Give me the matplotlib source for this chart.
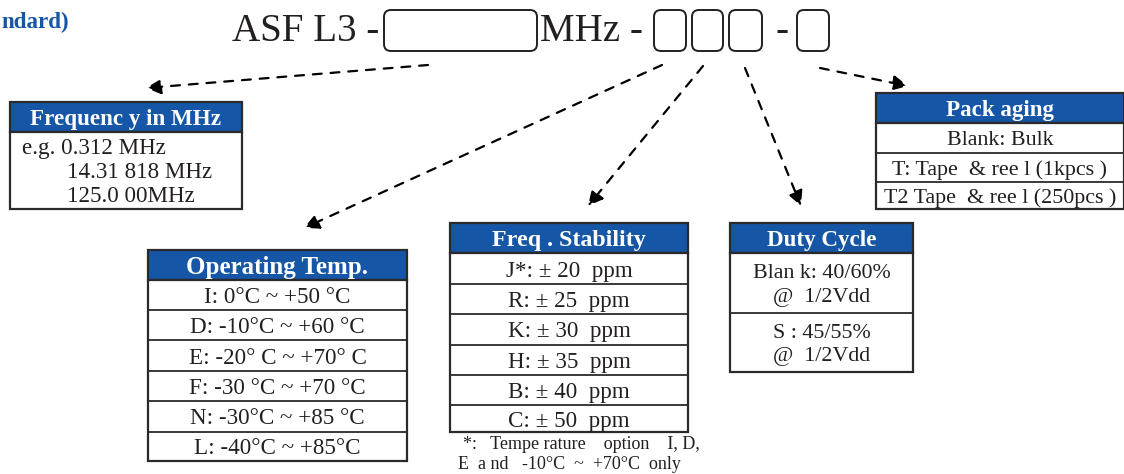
import matplotlib
matplotlib.use("Agg")
import matplotlib.pyplot as plt
from matplotlib.patches import FancyBboxPatch, Rectangle

# ---- content ----
title_suffix = "ndard)"
part_prefix = "ASF L3 -"
part_mid = "MHz -"
part_sep = "-"
freq_title = "Frequenc y in MHz"
freq_examples = ["e.g. 0.312 MHz", "14.31 818 MHz", "125.0 00MHz"]
temp_title = "Operating Temp."
temp_options = ["I: 0°C ~ +50 °C", "D: -10°C ~ +60 °C", "E: -20° C ~ +70° C",
                "F: -30 °C ~ +70 °C", "N: -30°C ~ +85 °C", "L: -40°C ~ +85°C"]
stab_title = "Freq . Stability"
stab_options = ["J*: ± 20  ppm", "R: ± 25  ppm", "K: ± 30  ppm",
                "H: ± 35  ppm", "B: ± 40  ppm", "C: ± 50  ppm"]
stab_note = ["*:   Tempe rature    option    I, D,", "E  a nd   -10°C  ~  +70°C  only"]
duty_title = "Duty Cycle"
duty_options = [["Blan k: 40/60%", "@  1/2Vdd"], ["S : 45/55%", "@  1/2Vdd"]]
pack_title = "Pack aging"
pack_options = ["Blank: Bulk", "T: Tape  & ree l (1kpcs )", "T2 Tape  & ree l (250pcs )"]

BLUE = "#1656a6"
INK = "#231f20"
SERIF = ["Liberation Serif", "DejaVu Serif"]
DY = 2.5

W, H = 1124, 474
fig = plt.figure(figsize=(W / 100, H / 100), dpi=100)
ax = fig.add_axes([0, 0, 1, 1])
ax.set_xlim(0, W)
ax.set_ylim(H, 0)
ax.axis("off")

def pt(px):
    return px * 0.72

def txt(x, y, s, size, ha="center", color=INK, weight="normal"):
    ax.text(x, y + DY, s, fontsize=pt(size), ha=ha, va="center", color=color,
            fontweight=weight, family=SERIF, zorder=5)

def table(x0, x1, ytop, yhead, rows_y, title, row_texts, row_size=23, head_size=23):
    ax.add_patch(Rectangle((x0, ytop), x1 - x0, yhead - ytop, facecolor=BLUE,
                           edgecolor="#2a2a2a", lw=1.6, zorder=2))
    txt((x0 + x1) / 2, (ytop + yhead) / 2, title, head_size, color="white", weight="bold")
    ax.add_patch(Rectangle((x0, yhead), x1 - x0, rows_y[-1] - yhead, facecolor="white",
                           edgecolor="#2a2a2a", lw=1.6, zorder=2))
    prev = yhead
    for i, yb in enumerate(rows_y):
        if i < len(rows_y) - 1:
            ax.plot([x0, x1], [yb, yb], color="#2a2a2a", lw=1.3, zorder=3)
        content = row_texts[i]
        if isinstance(content, list):
            n = len(content)
            mid = (prev + yb) / 2
            for k, line in enumerate(content):
                txt((x0 + x1) / 2, mid + (k - (n - 1) / 2) * 24, line, row_size)
        else:
            txt((x0 + x1) / 2, (prev + yb) / 2, content, row_size)
        prev = yb

# ---- title pieces ----
ax.text(69, 22, title_suffix, fontsize=pt(23), ha="right", va="center",
        color=BLUE, fontweight="bold", family=SERIF)
txt(232, 29, part_prefix, 39, ha="left")
txt(540, 29, part_mid, 39, ha="left")
txt(782, 29, part_sep, 39)

boxes = [(384, 537), (654, 686), (692, 723), (729, 762), (797, 829)]
for bx0, bx1 in boxes:
    ax.add_patch(FancyBboxPatch((bx0, 10), bx1 - bx0, 41,
                                boxstyle="round,pad=0,rounding_size=7",
                                facecolor="white", edgecolor=INK, lw=1.4, zorder=6))

# ---- arrows ----
arrows = [((428, 65), (146, 88)), ((662, 65), (304, 228)), ((703, 66), (588, 206)),
          ((745, 68), (801, 206)), ((820, 68), (908, 86))]
for (xs, ys), (xe, ye) in arrows:
    ax.annotate("", xy=(xe, ye), xytext=(xs, ys),
                arrowprops=dict(arrowstyle="-|>,head_length=0.9,head_width=0.45",
                                linestyle=(0, (4, 4)), lw=1.6, color="black",
                                shrinkA=0, shrinkB=0))

# ---- Frequency box ----
ax.add_patch(Rectangle((10, 102), 232, 30, facecolor=BLUE, edgecolor="#2a2a2a", lw=1.6))
txt(126, 117, freq_title, 23, color="white", weight="bold")
ax.add_patch(Rectangle((10, 132), 232, 77, facecolor="white", edgecolor="#2a2a2a", lw=1.6))
txt(22, 146, freq_examples[0], 23, ha="left")
txt(67, 170, freq_examples[1], 23, ha="left")
txt(67, 194, freq_examples[2], 23, ha="left")

# ---- Operating temp ----
table(148, 407, 250, 280, [310, 340, 371, 401, 432, 461], temp_title, temp_options,
      head_size=25)

# ---- Freq stability ----
table(450, 688, 223, 253, [284, 314, 345, 375, 405, 432], stab_title, stab_options,
      head_size=24)
txt(463, 442, stab_note[0], 18, ha="left")
txt(458, 462, stab_note[1], 18, ha="left")

# ---- Duty cycle ----
table(730, 913, 223, 253, [313, 372], duty_title, duty_options, row_size=22)

# ---- Packaging ----
table(876, 1124, 93, 123, [153, 182, 209], pack_title, pack_options, row_size=22)

fig.savefig("out.png", dpi=100)
